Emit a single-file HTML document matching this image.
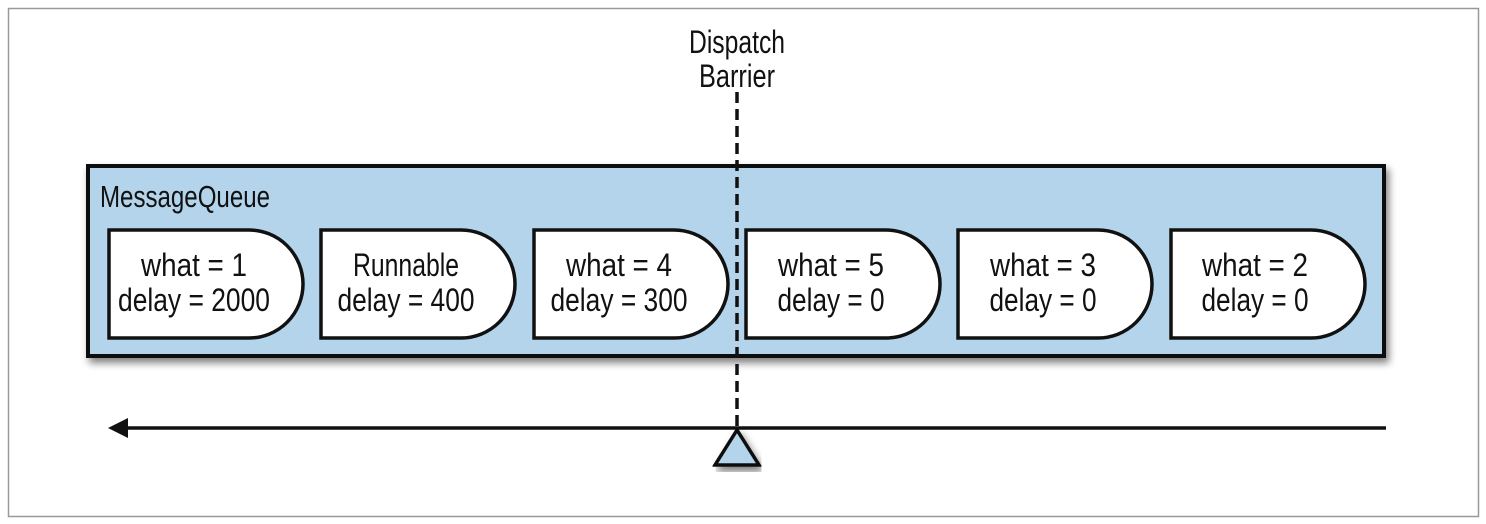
<!DOCTYPE html>
<html><head><meta charset="utf-8"><style>
html,body{margin:0;padding:0;background:#fff;}
svg{display:block;}
text{font-family:"Liberation Sans",sans-serif;fill:#111;}
</style></head><body>
<svg width="1486" height="524" viewBox="0 0 1486 524" xmlns="http://www.w3.org/2000/svg">
<defs>
<filter id="sh" x="-5%" y="-20%" width="110%" height="140%"><feGaussianBlur in="SourceAlpha" stdDeviation="4"/><feOffset dx="3" dy="5"/><feComponentTransfer><feFuncA type="linear" slope="0.5"/></feComponentTransfer><feMerge><feMergeNode/><feMergeNode in="SourceGraphic"/></feMerge></filter>
</defs>
<rect x="8.5" y="8.5" width="1470" height="508" fill="#fff" stroke="#999" stroke-width="1.5"/>
<rect x="88" y="166" width="1296" height="190" fill="#b3d4ea" stroke="#111" stroke-width="4" filter="url(#sh)"/>
<text x="100" y="207" font-size="31" textLength="170" lengthAdjust="spacingAndGlyphs">MessageQueue</text>
<g stroke="#111" stroke-width="3.5" fill="#fff">
<path d="M109 230 H249 A54 54 0 0 1 249 338 H109 Z"/>
<path d="M321 230 H461 A54 54 0 0 1 461 338 H321 Z"/>
<path d="M534 230 H674 A54 54 0 0 1 674 338 H534 Z"/>
<path d="M746 230 H886 A54 54 0 0 1 886 338 H746 Z"/>
<path d="M958 230 H1098 A54 54 0 0 1 1098 338 H958 Z"/>
<path d="M1171 230 H1311 A54 54 0 0 1 1311 338 H1171 Z"/>
</g>
<g font-size="32" text-anchor="middle">
<text x="194" y="276" textLength="106" lengthAdjust="spacingAndGlyphs">what = 1</text>
<text x="194" y="311" textLength="152" lengthAdjust="spacingAndGlyphs">delay = 2000</text>
<text x="406" y="276" textLength="106" lengthAdjust="spacingAndGlyphs">Runnable</text>
<text x="406" y="311" textLength="137" lengthAdjust="spacingAndGlyphs">delay = 400</text>
<text x="619" y="276" textLength="106" lengthAdjust="spacingAndGlyphs">what = 4</text>
<text x="619" y="311" textLength="137" lengthAdjust="spacingAndGlyphs">delay = 300</text>
<text x="831" y="276" textLength="106" lengthAdjust="spacingAndGlyphs">what = 5</text>
<text x="831" y="311" textLength="107" lengthAdjust="spacingAndGlyphs">delay = 0</text>
<text x="1043" y="276" textLength="106" lengthAdjust="spacingAndGlyphs">what = 3</text>
<text x="1043" y="311" textLength="107" lengthAdjust="spacingAndGlyphs">delay = 0</text>
<text x="1255" y="276" textLength="106" lengthAdjust="spacingAndGlyphs">what = 2</text>
<text x="1255" y="311" textLength="107" lengthAdjust="spacingAndGlyphs">delay = 0</text>
<text x="737" y="53" textLength="96" lengthAdjust="spacingAndGlyphs">Dispatch</text>
<text x="737" y="87" textLength="76" lengthAdjust="spacingAndGlyphs">Barrier</text>
</g>
<line x1="737" y1="92" x2="737" y2="428" stroke="#111" stroke-width="3.5" stroke-dasharray="11,6"/>
<line x1="124" y1="428" x2="1386" y2="428" stroke="#111" stroke-width="3.5"/>
<polygon points="108,428 128,418 128,438" fill="#111"/>
<polygon points="737,430 715,465 759,465" fill="#b3d4ea" stroke="#111" stroke-width="3.5" stroke-linejoin="miter" filter="url(#sh)"/>
</svg>
</body></html>
